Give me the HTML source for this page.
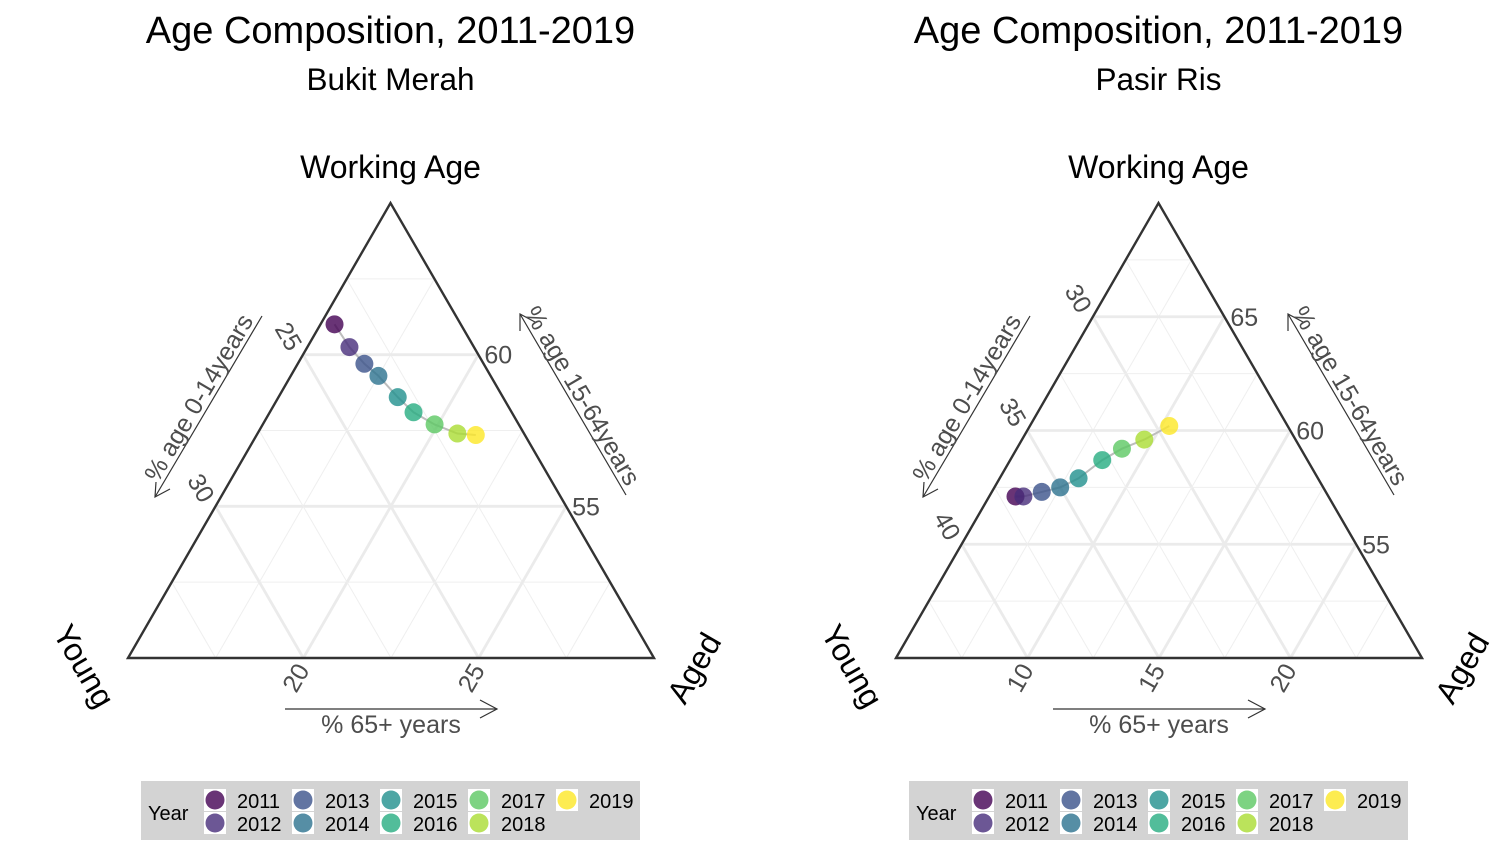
<!DOCTYPE html>
<html><head><meta charset="utf-8"><style>
html,body{margin:0;padding:0;background:#fff;}
svg{display:block;font-family:"Liberation Sans",sans-serif;}
</style></head><body>
<svg id="root" width="1501" height="843" viewBox="0 0 1501 843"></svg>
<script>
// ---- data ----
const years = [2011,2012,2013,2014,2015,2016,2017,2018,2019];
const colors = ["#440154","#472d7b","#3b528b","#2c728e","#21908d","#27ad81","#5cc863","#aadc32","#fde725"];
// Bukit Merah
const bmYoung   = [23.6,23.55,23.4,23.2,23.0,22.8,22.4,21.9,21.4];
const bmWorking = [61.0,60.25,59.7,59.3,58.6,58.1,57.7,57.4,57.35];
const bmAged    = [15.4,16.2,16.9,17.5,18.4,19.1,19.9,20.7,21.25];
const bmYoungTicks = [25,30];
const bmWorkTicks = [55,60];
const bmAgedTicks = [20,25];
// Pasir Ris
const prYoung   = [36.9,36.6,35.8,35.0,34.1,32.8,31.8,30.75,29.5];
const prWorking = [57.1,57.1,57.3,57.5,57.9,58.7,59.2,59.6,60.2];
const prAged    = [6.0,6.3,6.9,7.5,8.0,8.5,9.0,9.65,10.3];
const prYoungTicks = [30,35,40];
const prWorkTicks = [55,60,65];
const prAgedTicks = [10,15,20];

const NS="http://www.w3.org/2000/svg";
const root=document.getElementById('root');
function mk(tag,attrs,parent,text){const e=document.createElementNS(NS,tag);for(const k in attrs)e.setAttribute(k,attrs[k]);if(text!==undefined)e.textContent=text;(parent||root).appendChild(e);return e;}

function plot(ox, sub, Y, W, A, yT, wT, aT, lim, pname){
  const g=mk('g',{});
  
  
  const BL=[ox+128,658], AP=[ox+390.5,203], BR=[ox+654,658];
  const span=lim.span, Ym=lim.Y, Wm=lim.W, Am=lim.A;
  function P(y,w,a){const ny=(y-Ym)/span,nw=(w-Wm)/span,na=(a-Am)/span;
    return [BL[0]*ny+AP[0]*nw+BR[0]*na, BL[1]*ny+AP[1]*nw+BR[1]*na];}
  const cx=ox+390.5;
  let t=mk('text',{x:cx,y:43,'text-anchor':'middle','font-size':38,fill:'#000'},g,'Age Composition, 2011-2019');
  
  t=mk('text',{x:cx,y:90,'text-anchor':'middle','font-size':31.5,fill:'#000'},g,sub);
  
  t=mk('text',{x:cx,y:178,'text-anchor':'middle','font-size':32,fill:'#000'},g,'Working Age');
  
  // grid
  const grid=mk('g',{},g);
  
  for(let k=1;k*2.5<span;k++){
    const major=(k%2===0);
    const st={stroke:major?'#ebebeb':'#efefef','stroke-width':major?2.8:1};
    let v=Wm+k*2.5; let p1=P(100-v-Am,v,Am), p2=P(Ym,v,100-v-Ym);
    mk('line',Object.assign({x1:p1[0],y1:p1[1],x2:p2[0],y2:p2[1]},st),grid);
    v=Am+k*2.5; p1=P(Ym,100-v-Ym,v); p2=P(100-v-Wm,Wm,v);
    mk('line',Object.assign({x1:p1[0],y1:p1[1],x2:p2[0],y2:p2[1]},st),grid);
    v=Ym+k*2.5; p1=P(v,Wm,100-v-Wm); p2=P(v,100-v-Am,Am);
    mk('line',Object.assign({x1:p1[0],y1:p1[1],x2:p2[0],y2:p2[1]},st),grid);
  }
  const tri=mk('polygon',{points:[BL,AP,BR].map(p=>p.join(',')).join(' '),fill:'none',stroke:'#333','stroke-width':2.4},g);
  
  // ticks
  yT.forEach(v=>{const p=P(v,100-v-Am,Am);
    const e=mk('text',{x:0,y:0,'text-anchor':'middle','dominant-baseline':'central','font-size':25,fill:'#4d4d4d',transform:`translate(${p[0]-15},${p[1]-18}) rotate(60)`},g,String(v));
    });
  wT.forEach(v=>{const p=P(Ym,v,100-v-Ym);
    const e=mk('text',{x:p[0]+6,y:p[1]+9,'font-size':25,fill:'#4d4d4d'},g,String(v));
    });
  aT.forEach(v=>{const p=P(100-v-Wm,Wm,v);
    const e=mk('text',{x:0,y:0,'text-anchor':'middle','dominant-baseline':'central','font-size':25,fill:'#4d4d4d',transform:`translate(${p[0]-7},${p[1]+20}) rotate(-60)`},g,String(v));
    });
  // axis arrows
  const ar={stroke:'#333','stroke-width':1.2,fill:'none'};
  let a=mk('g',{},g);
  mk('line',Object.assign({x1:ox+262,y1:316,x2:ox+155,y2:497},ar),a);
  mk('polyline',Object.assign({points:`${ox+156},${482} ${ox+155},${497} ${ox+170},${489}`,'stroke-width':2},ar),a);
  t=mk('text',{x:0,y:0,'text-anchor':'middle','font-size':25,fill:'#4d4d4d',transform:`translate(${ox+206},${402}) rotate(-59.5)`},a,'% age 0-14years');
  a=mk('g',{},g);
  mk('line',Object.assign({x1:ox+520,y1:314,x2:ox+626,y2:495},ar),a);
  mk('polyline',Object.assign({points:`${ox+520},${331} ${ox+520},${314} ${ox+535},${322}`,'stroke-width':2},ar),a);
  t=mk('text',{x:0,y:0,'text-anchor':'middle','font-size':25,fill:'#4d4d4d',transform:`translate(${ox+575},${400}) rotate(59.5)`},a,'% age 15-64years');
  a=mk('g',{},g);
  mk('line',Object.assign({x1:ox+285,y1:709,x2:ox+497,y2:709},ar),a);
  mk('polyline',Object.assign({points:`${ox+480},${700} ${ox+497},${709} ${ox+480},${718}`,'stroke-width':2},ar),a);
  t=mk('text',{x:ox+391,y:733,'text-anchor':'middle','font-size':25,fill:'#4d4d4d'},a,'% 65+ years');
  // vertex labels
  t=mk('text',{x:0,y:0,'text-anchor':'middle','dominant-baseline':'central','font-size':32,fill:'#000',transform:`translate(${ox+84},${666}) rotate(60)`},g,'Young');
  
  t=mk('text',{x:0,y:0,'text-anchor':'middle','dominant-baseline':'central','font-size':32,fill:'#000',transform:`translate(${ox+694},${668}) rotate(-60)`},g,'Aged');
  
  // path + points
  const pts=years.map((yr,i)=>P(Y[i],W[i],A[i]));
  const ln=mk('polyline',{points:pts.map(p=>p.join(',')).join(' '),fill:'none',stroke:'#bdbdbd','stroke-width':2},g);
  
  pts.forEach((p,i)=>{
    const c=mk('circle',{cx:p[0],cy:p[1],r:9,fill:colors[i],'fill-opacity':0.8},g);
    
    
  });
  // legend
  const lg=mk('g',{},g);
  
  mk('rect',{x:ox+141,y:781,width:499,height:59,fill:'#d3d3d3'},lg);
  mk('text',{x:ox+148,y:820,'font-size':20,fill:'#000'},lg,'Year');
  years.forEach((yr,i)=>{
    const col=Math.floor(i/2), row=i%2;
    const kx=ox+204+col*88, ky=789+row*23;
    mk('rect',{x:kx,y:ky,width:22,height:22,fill:'#fff'},lg);
    mk('circle',{cx:kx+11,cy:ky+11,r:9.5,fill:colors[i],'fill-opacity':0.8},lg);
    const e=mk('text',{x:kx+33,y:ky+19,'font-size':20,fill:'#000'},lg,String(yr));
    
    
  });
}
plot(0,'Bukit Merah',bmYoung,bmWorking,bmAged,bmYoungTicks,bmWorkTicks,bmAgedTicks,{span:15,Y:20,W:50,A:15},'bukit-merah');
plot(768,'Pasir Ris',prYoung,prWorking,prAged,prYoungTicks,prWorkTicks,prAgedTicks,{span:20,Y:25,W:50,A:5},'pasir-ris');
</script>
</body></html>
